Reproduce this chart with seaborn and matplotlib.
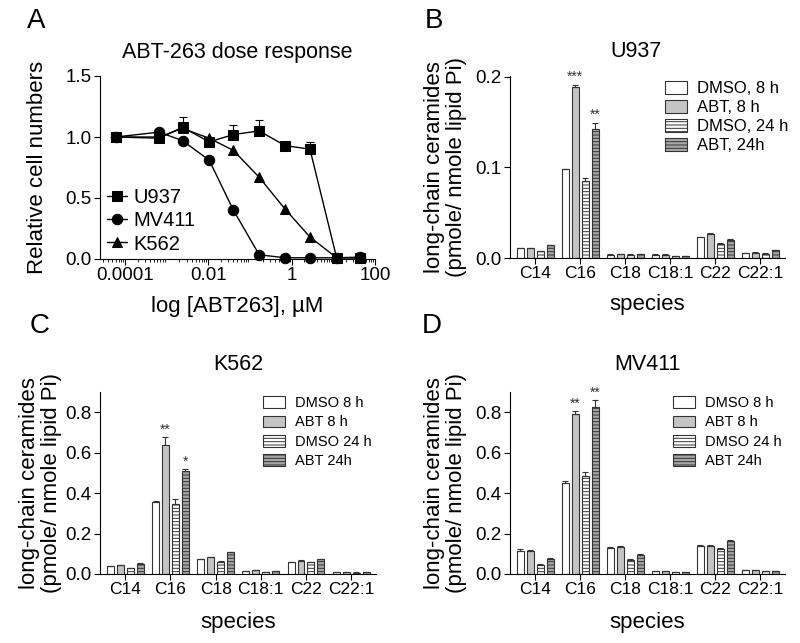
import numpy as np
import pandas as pd
import matplotlib
matplotlib.use('Agg')
import matplotlib.pyplot as plt
import matplotlib.patches as mpatches
from matplotlib.ticker import LogLocator, FixedLocator, NullFormatter
import seaborn as sns

# ---- data: panel A dose response ----
conc = [0.00006, 0.00066, 0.0024, 0.0105, 0.040, 0.166, 0.69, 2.75, 12.0, 43.0]
u937_resp = [1.00, 0.99, 1.08, 0.96, 1.02, 1.05, 0.93, 0.90, 0.01, 0.01]
u937_err = [0.01, 0.01, 0.08, 0.02, 0.08, 0.09, 0.02, 0.06, 0.0, 0.0]
mv411_resp = [1.00, 1.04, 0.97, 0.81, 0.40, 0.035, 0.01, 0.01, 0.01, 0.015]
k562_resp = [1.00, 1.00, 1.07, 0.99, 0.89, 0.67, 0.41, 0.18, 0.01, 0.01]
cell_lines = ['U937', 'MV411', 'K562']

# ---- data: ceramide species ----
species = ['C14', 'C16', 'C18', 'C18:1', 'C22', 'C22:1']

u937_dmso8 = [0.011, 0.098, 0.0037, 0.0037, 0.023, 0.0055]
u937_abt8 = [0.011, 0.189, 0.0044, 0.0037, 0.027, 0.006]
u937_dmso24 = [0.0075, 0.085, 0.0037, 0.002, 0.016, 0.0048]
u937_abt24 = [0.014, 0.143, 0.0044, 0.002, 0.020, 0.0085]
u937_dmso8_err = [0.0004, 0.0005, 0.0003, 0.0003, 0.0006, 0.0003]
u937_abt8_err = [0.0004, 0.002, 0.0003, 0.0003, 0.0006, 0.0003]
u937_dmso24_err = [0.0004, 0.003, 0.0003, 0.0002, 0.0008, 0.0003]
u937_abt24_err = [0.0005, 0.006, 0.0003, 0.0002, 0.0008, 0.0004]

k562_dmso8 = [0.039, 0.356, 0.072, 0.016, 0.057, 0.010]
k562_abt8 = [0.044, 0.636, 0.082, 0.018, 0.066, 0.010]
k562_dmso24 = [0.028, 0.345, 0.061, 0.011, 0.057, 0.007]
k562_abt24 = [0.049, 0.507, 0.107, 0.013, 0.072, 0.010]
k562_dmso8_err = [0.002, 0.005, 0.003, 0.001, 0.002, 0.001]
k562_abt8_err = [0.002, 0.040, 0.003, 0.001, 0.003, 0.001]
k562_dmso24_err = [0.002, 0.025, 0.004, 0.001, 0.003, 0.001]
k562_abt24_err = [0.003, 0.010, 0.004, 0.001, 0.003, 0.001]

mv411_dmso8 = [0.113, 0.450, 0.130, 0.013, 0.138, 0.020]
mv411_abt8 = [0.115, 0.790, 0.135, 0.013, 0.138, 0.021]
mv411_dmso24 = [0.044, 0.485, 0.069, 0.008, 0.126, 0.013]
mv411_abt24 = [0.074, 0.828, 0.094, 0.011, 0.163, 0.016]
mv411_dmso8_err = [0.010, 0.012, 0.004, 0.001, 0.004, 0.001]
mv411_abt8_err = [0.004, 0.015, 0.005, 0.001, 0.003, 0.001]
mv411_dmso24_err = [0.005, 0.020, 0.006, 0.001, 0.004, 0.001]
mv411_abt24_err = [0.005, 0.030, 0.006, 0.001, 0.005, 0.001]

legend_b = ['DMSO, 8 h', 'ABT, 8 h', 'DMSO, 24 h', 'ABT, 24h']
legend_cd = ['DMSO 8 h', 'ABT 8 h', 'DMSO 24 h', 'ABT 24h']

# bar styles
fills = ['white', '#c4c4c4', 'white', '#a6a6a6']
hatches = [None, None, '-----', '-----']
edge = '#333333'

sns.set_theme(style='ticks')
plt.rcParams['font.family'] = ['Liberation Sans', 'DejaVu Sans']
plt.rcParams['hatch.linewidth'] = 0.7
plt.rcParams['axes.edgecolor'] = 'black'
plt.rcParams['axes.linewidth'] = 0.8
plt.rcParams['xtick.color'] = 'black'
plt.rcParams['ytick.color'] = 'black'
plt.rcParams['text.color'] = 'black'
plt.rcParams['axes.labelcolor'] = 'black'

fig = plt.figure(figsize=(8, 6.43), dpi=100)
W, H = 800.0, 643.0


def add_ax(left, top, right, bottom):
    return fig.add_axes([left / W, 1 - bottom / H, (right - left) / W, (bottom - top) / H])


# ================= panel A =================
axA = add_ax(100, 76, 375, 259)
dfA = pd.DataFrame({
    'conc': conc * 3,
    'resp': u937_resp + mv411_resp + k562_resp,
    'line': ['U937'] * len(conc) + ['MV411'] * len(conc) + ['K562'] * len(conc),
})
# draw K562 and MV411 first, U937 on top
for name, mk in [('K562', '^'), ('MV411', 'o'), ('U937', 's')]:
    sns.lineplot(data=dfA[dfA['line'] == name], x='conc', y='resp', color='black',
                 marker=mk, markersize=7.5, markeredgecolor='black', linewidth=1,
                 ax=axA, label=name, clip_on=False, zorder=3)
axA.errorbar(conc, u937_resp, yerr=[np.zeros(len(conc)), u937_err], fmt='none',
             ecolor='black', elinewidth=0.8, capsize=3, capthick=0.8, zorder=2)
axA.set_xscale('log')
axA.set_xlim(10 ** -4.6, 100)
axA.set_ylim(0, 1.5)
axA.xaxis.set_major_locator(FixedLocator([1e-4, 1e-2, 1, 100]))
axA.set_xticklabels(['0.0001', '0.01', '1', '100'])
axA.xaxis.set_minor_locator(LogLocator(base=10, subs=np.arange(2, 10), numticks=20))
axA.xaxis.set_minor_formatter(NullFormatter())
axA.set_yticks([0, 0.5, 1.0, 1.5])
axA.set_yticklabels(['0.0', '0.5', '1.0', '1.5'])
axA.set_title('ABT-263 dose response', fontsize=15.5, pad=13)
axA.set_xlabel('log [ABT263], µM', fontsize=16)
axA.set_ylabel('Relative cell numbers', fontsize=16)
axA.xaxis.set_label_coords(0.5, -0.2)
axA.yaxis.set_label_coords(-0.19, 0.5)
h, l = axA.get_legend_handles_labels()
order = [l.index(n) for n in cell_lines]
axA.legend([h[i] for i in order], [l[i] for i in order], loc='lower left',
           bbox_to_anchor=(0.025, 0.03), frameon=False, fontsize=14.5,
           handlelength=1.0, handletextpad=0.3, labelspacing=0.2,
           borderpad=0, borderaxespad=0)


# ================= bar panels =================
def bar_panel(ax, vals, errs, labels, title, ylim, yticks, legend_fs, leg_anchor,
              handlelength, handleheight, handletextpad, labelspacing, title_pad, stars):
    conds = ['c%d' % i for i in range(4)]
    df = pd.DataFrame({
        'species': species * 4,
        'cond': [c for c in conds for _ in species],
        'value': [v for vs in vals for v in vs],
    })
    sns.barplot(data=df, x='species', y='value', hue='cond', hue_order=conds,
                palette=fills, saturation=1, edgecolor=edge, linewidth=0.8,
                width=0.88, gap=0.3, errorbar=None, legend=False, ax=ax)
    bars = list(ax.containers)
    for i, cont in enumerate(bars):
        for p in cont:
            if hatches[i]:
                p.set_hatch(hatches[i])
        xs = [p.get_x() + p.get_width() / 2 for p in cont]
        ax.errorbar(xs, vals[i], yerr=[np.zeros(len(xs)), errs[i]], fmt='none',
                    ecolor=edge, elinewidth=0.8, capsize=2, capthick=0.8)
    # significance stars above C16 bars
    for i, s in stars:
        p = bars[i][1]
        x = p.get_x() + p.get_width() / 2
        ax.text(x, vals[i][1] + errs[i][1] + ylim * 0.005, s, ha='center',
                va='bottom', fontsize=10, color='#333333')
    ax.set_xlim(-0.56, 5.55)
    ax.set_ylim(0, ylim)
    ax.set_yticks(yticks)
    ax.set_yticklabels(['%.1f' % t for t in yticks])
    ax.set_title(title, fontsize=15.5, pad=title_pad)
    ax.set_xlabel('species', fontsize=16)
    ax.set_ylabel('long-chain ceramides\n(pmole/ nmole lipid Pi)', fontsize=16,
                  linespacing=1.05)
    handles = [mpatches.Patch(facecolor=fills[i], edgecolor=edge, hatch=hatches[i],
                              linewidth=0.8) for i in range(4)]
    ax.legend(handles, labels, loc='upper left', bbox_to_anchor=leg_anchor,
              frameon=False, fontsize=legend_fs, handlelength=handlelength,
              handleheight=handleheight, handletextpad=handletextpad,
              labelspacing=labelspacing, borderpad=0, borderaxespad=0)


axB = add_ax(510, 76, 785, 258)
bar_panel(axB,
          [u937_dmso8, u937_abt8, u937_dmso24, u937_abt24],
          [u937_dmso8_err, u937_abt8_err, u937_dmso24_err, u937_abt24_err],
          legend_b, 'U937', 0.201, [0.0, 0.1, 0.2], 12, (0.564, 0.975),
          1.3, 0.9, 0.6, 0.2, 14, [(1, '***'), (3, '**')])
axB.title.set_x(0.46)
axB.xaxis.set_label_coords(0.5, -0.2)
axB.yaxis.set_label_coords(-0.156, 0.5)

axC = add_ax(100, 392, 376, 574)
bar_panel(axC,
          [k562_dmso8, k562_abt8, k562_dmso24, k562_abt24],
          [k562_dmso8_err, k562_abt8_err, k562_dmso24_err, k562_abt24_err],
          legend_cd, 'K562', 0.9, [0.0, 0.2, 0.4, 0.6, 0.8], 10.5, (0.59, 0.978),
          1.5, 0.85, 0.7, 0.37, 16, [(1, '**'), (3, '*')])
axC.xaxis.set_label_coords(0.5, -0.21)
axC.yaxis.set_label_coords(-0.138, 0.5)

axD = add_ax(510, 392, 785, 574)
bar_panel(axD,
          [mv411_dmso8, mv411_abt8, mv411_dmso24, mv411_abt24],
          [mv411_dmso8_err, mv411_abt8_err, mv411_dmso24_err, mv411_abt24_err],
          legend_cd, 'MV411', 0.9, [0.0, 0.2, 0.4, 0.6, 0.8], 10.5, (0.593, 0.978),
          1.5, 0.85, 0.7, 0.37, 16, [(1, '**'), (3, '**')])
axD.xaxis.set_label_coords(0.5, -0.21)
axD.yaxis.set_label_coords(-0.156, 0.5)

for ax in [axA, axB, axC, axD]:
    sns.despine(ax=ax)
    ax.tick_params(axis='both', which='major', direction='out', length=4, width=0.8,
                   pad=2)
    ax.tick_params(axis='y', labelsize=13.5)
    ax.tick_params(axis='x', labelsize=12.5)
    ax.tick_params(axis='x', which='minor', direction='out', length=2.5, width=0.6)
axA.tick_params(axis='x', labelsize=13.5)

# panel letters
fig.text(27 / W, 1 - 28 / H, 'A', fontsize=20, va='baseline')
fig.text(425 / W, 1 - 28 / H, 'B', fontsize=20, va='baseline')
fig.text(30 / W, 1 - 333 / H, 'C', fontsize=20, va='baseline')
fig.text(422 / W, 1 - 333 / H, 'D', fontsize=20, va='baseline')

fig.savefig('out.png', dpi=100, facecolor='white')
